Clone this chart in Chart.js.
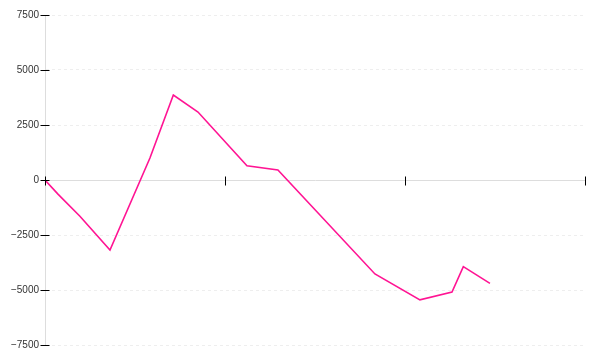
<!DOCTYPE html>
<html>
<head>
<meta charset="utf-8">
<script src="https://cdn.jsdelivr.net/npm/chart.js@4"></script>
<style>
html,body{margin:0;padding:0;background:#fff;}
#wrap{width:600px;height:360px;}
</style>
</head>
<body>
<div id="wrap"><canvas id="c" width="600" height="360"></canvas></div>
<script>
const xValues = [0, 0.72, 1.94, 3.61, 5.83, 7.13, 8.5, 11.22, 12.94, 18.33, 20.83, 22.61, 23.24, 24.72];
const yValues = [0, -640, -1650, -3180, 1000, 3860, 3090, 650, 455, -4270, -5450, -5090, -3940, -4700];
const xTicks = [0, 10, 20, 30];
const yTicks = [-7500, -5000, -2500, 0, 2500, 5000, 7500];

const points = xValues.map((x, i) => ({x: x, y: yValues[i]}));

const tickMarks = {
  id: 'tickMarks',
  afterDraw(chart) {
    const ctx = chart.ctx;
    const xs = chart.scales.x, ys = chart.scales.y;
    const y0 = Math.round(ys.getPixelForValue(0)) + 0.5;
    const xa = Math.round(xs.getPixelForValue(xTicks[0])) + 0.5;
    ctx.save();
    ctx.strokeStyle = '#000';
    ctx.lineWidth = 1;
    ctx.beginPath();
    yTicks.forEach(v => {
      const py = Math.round(ys.getPixelForValue(v)) + 0.5;
      ctx.moveTo(xa - 5, py);
      ctx.lineTo(xa + 4, py);
    });
    xTicks.forEach(v => {
      const px = Math.round(xs.getPixelForValue(v)) + 0.5;
      ctx.moveTo(px, y0 - 4);
      ctx.lineTo(px, y0 + 5);
    });
    ctx.stroke();
    ctx.restore();
  }
};

new Chart(document.getElementById('c'), {
  type: 'line',
  data: {
    datasets: [{
      data: points,
      borderColor: '#ff1493',
      borderWidth: 1.6,
      pointRadius: 0,
      tension: 0,
      fill: false
    }]
  },
  options: {
    responsive: false,
    animation: false,
    devicePixelRatio: 1,
    layout: {padding: {left: 0, right: 15, top: 15, bottom: 15}},
    plugins: {legend: {display: false}, tooltip: {enabled: false}},
    scales: {
      x: {
        type: 'linear',
        min: 0, max: 30,
        display: false,
        afterBuildTicks(scale) { scale.ticks = xTicks.map(v => ({value: v})); }
      },
      y: {
        type: 'linear',
        min: -7500, max: 7500,
        afterBuildTicks(scale) { scale.ticks = yTicks.map(v => ({value: v})); },
        afterFit(scale) { scale.width = 45; },
        ticks: {
          padding: 6,
          color: '#333',
          font: {family: 'Liberation Sans, Arial, sans-serif', size: 10},
          callback: v => v < 0 ? '\u2212' + Math.abs(v) : String(v)
        },
        grid: {
          drawTicks: false,
          color: ctx => (ctx.tick && ctx.tick.value === 0) ? '#dddddd' : '#eeeeee',
          lineWidth: 1
        },
        border: {
          display: true,
          color: '#dddddd',
          width: 1,
          dash: ctx => (ctx.tick && ctx.tick.value === 0) ? [] : [3, 3]
        }
      }
    }
  },
  plugins: [tickMarks]
});
</script>
</body>
</html>
